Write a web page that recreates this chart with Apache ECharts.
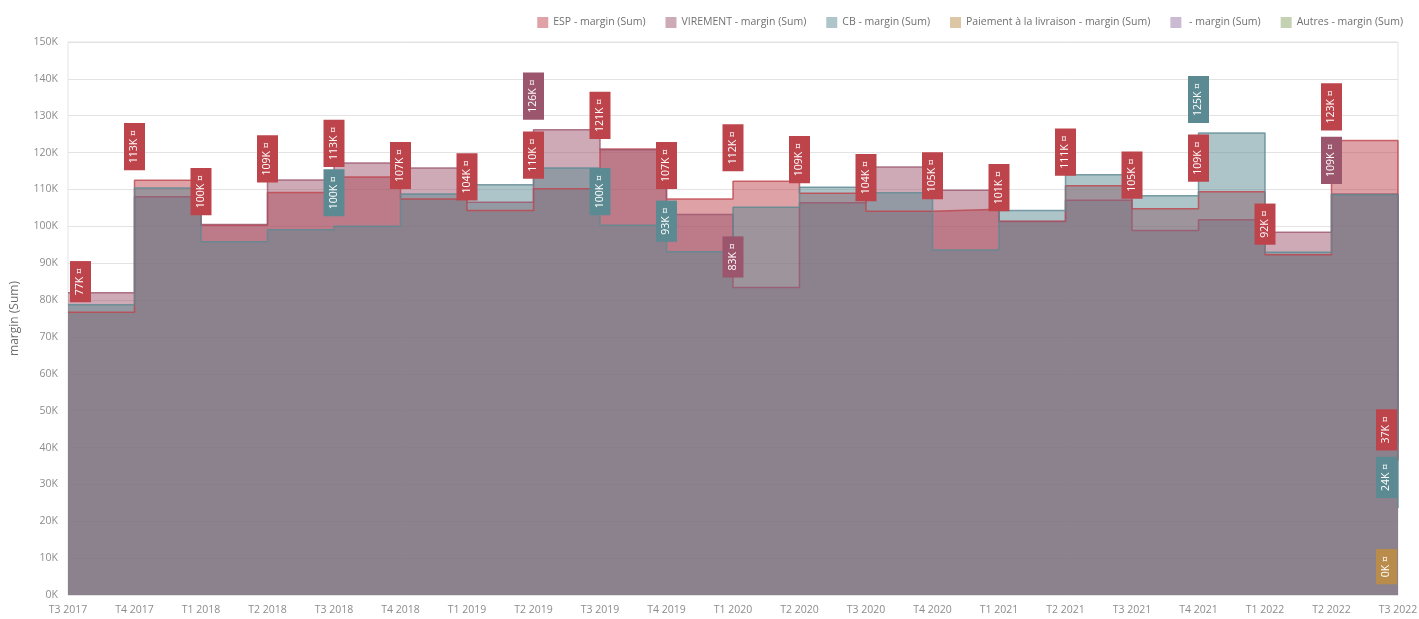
<!DOCTYPE html>
<html>
<head>
<meta charset="utf-8">
<script src="https://cdn.jsdelivr.net/npm/echarts@6/dist/echarts.min.js"></script>
<style>
  html, body { margin: 0; padding: 0; background: #ffffff; }
  #chart { width: 1419px; height: 619px; }
</style>
</head>
<body>
<div id="chart"></div>
<script>
// Quarters on the category axis
const quarters = ['T3 2017', 'T4 2017', 'T1 2018', 'T2 2018', 'T3 2018', 'T4 2018', 'T1 2019',
  'T2 2019', 'T3 2019', 'T4 2019', 'T1 2020', 'T2 2020', 'T3 2020', 'T4 2020', 'T1 2021',
  'T2 2021', 'T3 2021', 'T4 2021', 'T1 2022', 'T2 2022', 'T3 2022'];

// margin (Sum) per payment method, in thousands
const espMargin = [76.7, 112.5, 100.3, 109.2, 113.4, 107.4, 104.3, 110.2, 121.0, 107.4, 112.2,
  109.0, 104.1, 104.6, 101.4, 111.0, 104.8, 109.4, 92.3, 123.3, 36.5];
const virementMargin = [82.0, 108.0, 100.5, 112.6, 117.2, 115.8, 106.5, 126.2, 120.8, 103.2, 83.4,
  106.4, 116.1, 109.8, 101.3, 107.1, 98.9, 101.8, 98.4, 108.8, 41.0];
const cbMargin = [78.7, 110.4, 95.8, 99.1, 100.0, 108.8, 111.3, 115.8, 100.3, 93.1, 105.2,
  110.6, 109.1, 93.6, 104.3, 114.0, 108.3, 125.3, 93.0, 108.6, 23.6];
const livraisonMargin = [null, null, null, null, null, null, null, null, null, null, null,
  null, null, null, null, null, null, null, null, null, 0.2];
const blankMargin = [];
const autresMargin = [];

// y axis ticks (thousands)
const yMin = 0, yMax = 150, yStep = 10;

const seriesDefs = [
  { name: 'ESP - margin (Sum)', data: espMargin, color: '#be444c' },
  { name: 'VIREMENT - margin (Sum)', data: virementMargin, color: '#9b566d' },
  { name: 'CB - margin (Sum)', data: cbMargin, color: '#5c8a92' },
  { name: 'Paiement à la livraison - margin (Sum)', data: livraisonMargin, color: '#b98c4b' },
  { name: ' - margin (Sum)', data: blankMargin, color: '#9474a4' },
  { name: 'Autres - margin (Sum)', data: autresMargin, color: '#8aa266' }
];

const FONT = "'Open Sans', sans-serif";
const GRID = { left: 68, right: 21, top: 42, bottom: 24 };
const CHART_W = 1419;

// half-way blend of a colour with white (legend swatches)
function tint(hex) {
  const n = parseInt(hex.slice(1), 16);
  const r = (n >> 16) & 255, g = (n >> 8) & 255, b = n & 255;
  const f = c => Math.round((c + 255) / 2).toString(16).padStart(2, '0');
  return '#' + f(r) + f(g) + f(b);
}

// keep value labels inside the plot area horizontally, hide colliding ones.
// The labels are turned 90deg, so a horizontal shift is a shift along their local y.
function keepInside(p) {
  const r = p.labelRect;
  const left = GRID.left + 2, right = CHART_W - GRID.right - 1;
  let shift = 0;
  if (r.x < left) shift = left - r.x;
  else if (r.x + r.width > right) shift = right - (r.x + r.width);
  return { dy: shift, hideOverlap: true };
}

const chart = echarts.init(document.getElementById('chart'), null, { renderer: 'canvas' });

chart.setOption({
  animation: false,
  backgroundColor: '#ffffff',
  textStyle: { fontFamily: FONT },
  legend: {
    top: 12,
    right: 11,
    icon: 'rect',
    itemWidth: 11,
    itemHeight: 11,
    itemGap: 20,
    textStyle: { color: '#707070', fontSize: 10.5, fontFamily: FONT },
    data: seriesDefs.map(s => ({ name: s.name, itemStyle: { color: tint(s.color), borderWidth: 0 } }))
  },
  grid: Object.assign({
    show: true,
    borderColor: '#e3e3e3',
    borderWidth: 1,
    containLabel: false,
    outerBoundsMode: 'none'
  }, GRID),
  xAxis: {
    type: 'category',
    data: quarters,
    boundaryGap: false,
    axisLine: { show: false },
    axisTick: { show: false },
    axisLabel: { color: '#8c8c8c', fontSize: 10.5, margin: 10, fontFamily: FONT },
    splitLine: { show: false }
  },
  yAxis: {
    type: 'value',
    min: yMin,
    max: yMax,
    interval: yStep,
    name: 'margin (Sum)',
    nameLocation: 'middle',
    nameGap: 47,
    nameTextStyle: { color: '#6e6e6e', fontSize: 12, fontFamily: FONT },
    axisLine: { show: false },
    axisTick: { show: false },
    axisLabel: { color: '#8c8c8c', fontSize: 10.5, margin: 10, formatter: v => v + 'K', fontFamily: FONT },
    splitLine: { lineStyle: { color: '#e3e3e3', width: 1 } }
  },
  series: seriesDefs.map(s => ({
    name: s.name,
    type: 'line',
    step: 'end',
    data: s.data,
    symbol: 'circle',
    symbolSize: 0,
    showSymbol: true,
    showAllSymbol: true,
    itemStyle: { color: s.color },
    lineStyle: { color: s.color, width: 1.5, opacity: 0.8 },
    areaStyle: { color: s.color, opacity: 0.5 },
    emphasis: { disabled: true },
    label: {
      show: true,
      position: 'top',
      distance: 10,
      rotate: 90,
      align: 'left',
      verticalAlign: 'middle',
      color: '#ffffff',
      fontSize: 10.5,
      lineHeight: 13,
      fontFamily: FONT,
      backgroundColor: s.color,
      padding: [4, 7],
      formatter: p => Math.round(p.value) + 'K \u00a4'
    },
    labelLayout: keepInside
  }))
});
</script>
</body>
</html>
